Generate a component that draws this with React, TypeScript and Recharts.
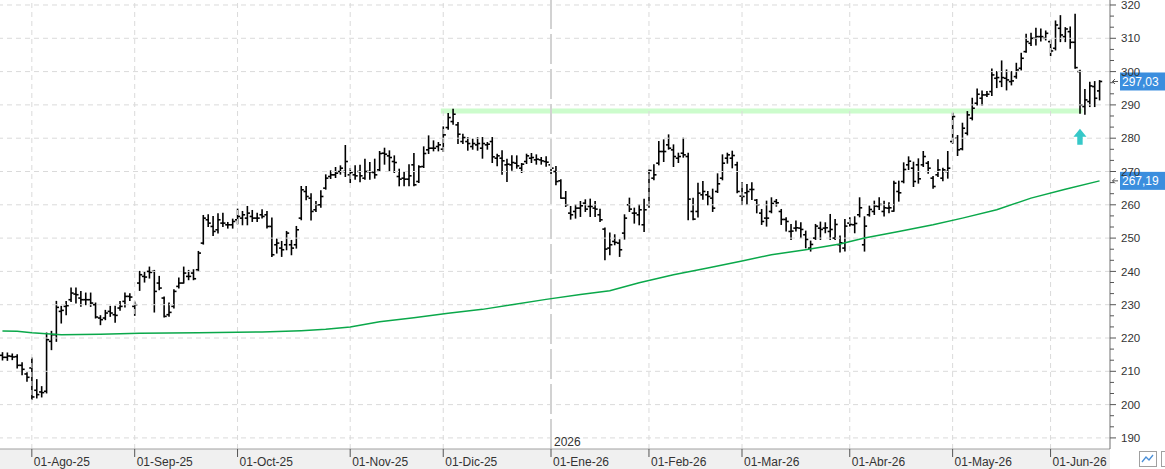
import React from 'react';
import {
  ComposedChart,
  Bar,
  Line,
  XAxis,
  YAxis,
  ReferenceLine,
  ReferenceArea,
  ReferenceDot,
} from 'recharts';

const FONT = '"Liberation Sans", Arial, sans-serif';

// US trading sessions from 24-Jul-2025
const firstSession = '2025-07-24';
const sessionCount = 225;
const holidays = [
  '2025-09-01', '2025-11-27', '2025-12-25', '2026-01-01',
  '2026-01-19', '2026-02-16', '2026-04-03', '2026-05-25',
];
const monthNames = ['Ene', 'Feb', 'Mar', 'Abr', 'May', 'Jun', 'Jul', 'Ago', 'Sep', 'Oct', 'Nov', 'Dic'];

// OHLC, one line per month (Jul-25 ... Jun-26)
const opens = [
  214.8, 214.2, 214.5, 214.4, 211.8, 209.2,
  211, 204.3, 203.8, 204, 219, 221, 228, 229.5, 231.5, 233.2, 232, 231.5, 231.5, 230, 226, 226, 228, 227, 229, 231, 232.5,
  229.5, 236.5, 238.5, 240, 240, 236.5, 232, 227, 229.5, 235.5, 236.5, 238.5, 239.5, 240.5, 248.5, 255.5, 253.5, 252.5, 254.5, 254, 254,
  255.5, 256, 256, 256.5, 256, 257, 257, 253.5, 248, 247, 248, 248, 248, 256, 264, 262, 258.5, 260, 265, 268.5, 269, 270, 270,
  269, 269, 270, 268, 270, 269.7, 270.5, 275.5, 274.7, 273, 268.5, 268, 267.7, 272, 267, 271.5, 276.5, 277, 277.5,
  276.7, 283.2, 285, 284, 279, 279, 277.5, 278, 277, 278, 279, 274, 274, 272, 272, 272.5, 271, 273, 274, 273.5, 273.5, 273,
  272, 270, 267.2, 262, 257.5, 258, 259, 260.5, 259.5, 259, 257, 252.7, 247, 249, 248.5, 251.5, 260, 257.5, 257, 254,
  260, 268, 272.5, 276, 278, 276.5, 274, 275.5, 274.5, 258, 258, 263, 263, 262, 264, 268, 274, 274, 272,
  262.6, 263.6, 264.6, 261.4, 257.5, 256, 258, 261, 258, 255.6, 252, 253, 253, 251, 247, 250, 253, 253, 252, 250, 248, 247,
  254.5, 254, 257, 248, 257, 258, 259.5, 258, 259, 258.1, 264, 267, 272, 271, 272, 272, 272.5, 268, 269, 268, 270,
  279, 280, 276.8, 281.5, 286, 290.5, 292, 293, 294, 298, 297, 298, 297, 298.5, 301, 306, 308.5, 310, 310.5, 310,
  309, 307, 313, 310.5, 312, 308.8, 300, 289.5, 291, 295.5, 294.2,
];
const highs = [
  215.6, 215.5, 215.2, 215, 212.6, 209.6,
  214, 207.5, 205.4, 221.5, 222, 231, 229.5, 231, 235, 235, 234, 233.5, 233.5, 230.5, 226.7, 228.3, 229.5, 229.5, 231, 233.5, 233.3,
  230.8, 240, 239.8, 241.3, 240.3, 238.5, 232.3, 230.5, 234.5, 238, 241.3, 240.3, 240.5, 246, 256.8, 257, 256.5, 257.3, 257.5, 254.7, 255.7,
  258.7, 258, 259.5, 258.3, 257.5, 258.5, 258, 256, 249.7, 249, 252, 249.3, 253.5, 265.5, 265.5, 263.3, 261, 264.2, 269, 270.2, 271.2, 271.7, 277.8,
  270.9, 271.7, 271.9, 273.7, 272.7, 273.7, 276, 277, 276.2, 274.7, 270.7, 270, 272, 275.4, 271.7, 277.4, 280.7, 279.2, 278.7,
  283.4, 287.4, 288.7, 284.7, 281.2, 280.2, 279.7, 280.2, 280.2, 278.7, 280.2, 275.2, 276.2, 273.7, 274.7, 274.7, 272.4, 275.2, 275.4, 275, 274.2, 274.4,
  277.7, 271.5, 267.5, 264, 259.5, 260, 261, 261.5, 261.7, 261, 258.7, 253, 251.5, 251, 249.5, 257, 262, 259, 260, 261.7,
  270.5, 272, 279, 279.5, 281, 278, 275.5, 280, 275.5, 262, 266.5, 267, 264, 264.7, 269.3, 275, 275.5, 276.1, 272.8,
  266.6, 266.1, 266.6, 261.6, 258.6, 261.1, 262.1, 261.6, 258.6, 256.1, 254.1, 255.1, 254.6, 252.1, 249.1, 254.1, 254.8, 254.6, 257.1, 255.6, 250.6, 255.6,
  256.1, 256.4, 262.1, 256.4, 259.6, 261.1, 262.1, 261.1, 260.6, 267.1, 267.1, 272.6, 274.4, 272.8, 273.8, 276, 273, 268.5, 273.5, 271, 276,
  287.5, 280.8, 284.5, 288, 292, 294.8, 294.2, 294, 300.8, 300, 303.2, 300.5, 300, 302.5, 305.5, 311.2, 311.5, 313, 312.8, 312.2,
  309.5, 315.2, 316.8, 313.2, 313.4, 317.2, 300.4, 294.6, 296.8, 297, 297.3,
];
const lows = [
  213.4, 213.3, 213.5, 211, 209, 207,
  201.5, 202, 202.3, 203.5, 216.5, 219, 224.5, 227, 231, 230.5, 229.5, 230, 229.5, 226, 224, 225.5, 226.5, 224.7, 228.3, 229.3, 231.3,
  226.8, 234.3, 236.8, 238, 227.8, 234.5, 226.3, 226.5, 229, 235, 236.5, 237.5, 237.5, 240, 248.2, 253.5, 250.8, 251.5, 253.5, 253, 253,
  254.3, 254, 254, 255, 255, 256, 253, 244.5, 245.5, 244.5, 246.5, 245, 247, 255.5, 261.5, 255.4, 258, 259.3, 264.7, 267.9, 268.2, 269.2, 268.5,
  266.7, 267.7, 266.9, 267.7, 267.7, 268, 270, 272.2, 270.2, 269.7, 265.7, 265.7, 265.7, 265.7, 266.7, 271.2, 275.4, 276.2, 276.2,
  276, 282.7, 284.2, 278.4, 278.4, 276.4, 276.7, 276.4, 274, 276.7, 272.7, 271.7, 269.2, 267, 270.4, 271, 269.7, 272.4, 272.7, 272.2, 272.2, 271.6,
  269, 266, 262, 259.5, 255.7, 256, 256.5, 258, 256.5, 256.5, 255, 243.5, 245, 248, 244.5, 249.7, 258, 254.5, 254, 252,
  259.3, 267.5, 272, 273, 276.7, 271.5, 272.7, 274.3, 255.5, 255.5, 256.3, 261.7, 260, 258, 263.7, 267.5, 272.5, 271.1, 263.6,
  260.1, 260.1, 261.6, 257.6, 254.1, 253.6, 257.6, 259.6, 254.1, 252.1, 249.6, 252.1, 250.1, 247.1, 246.1, 249.6, 249.6, 251.6, 249.6, 249.6, 245.8, 246.1,
  253.6, 251.6, 256.4, 246.1, 256.6, 257.1, 258.6, 256.6, 257.6, 258.1, 261.1, 266.6, 270.6, 265.5, 266.5, 271.5, 269.5, 265, 268.5, 267.2, 268,
  278.5, 274.8, 276.5, 281, 285.5, 290, 290, 292.5, 292.8, 295.2, 295.5, 294.5, 296, 298, 300.5, 305.8, 307.8, 308, 309.2, 309.5,
  304.8, 306.5, 309, 309, 307, 301, 287.5, 287.2, 289.5, 289.5, 291.5,
];
const closes = [
  214.2, 214.6, 214.3, 211.8, 210.6, 208.2,
  202.3, 203, 203.6, 219.5, 221, 229.2, 228.3, 229.7, 233.5, 233, 231.5, 231.5, 230.5, 226.3, 225.5, 227.5, 227.5, 226.8, 229.5, 232.5, 232.3,
  230, 239, 238.3, 239.7, 234, 235, 226.5, 227.7, 234, 236.5, 239.5, 238.5, 237.8, 245.5, 256, 254.5, 252, 255.5, 254.5, 254, 255,
  256.5, 257, 257.5, 256, 256, 256.5, 253.5, 245, 248.5, 246.5, 251.5, 247, 252.5, 264.5, 262.5, 258, 260, 262.5, 268, 269, 269.5, 271, 273,
  269.7, 268.7, 268.7, 270, 269.9, 269, 275.4, 275.2, 274.2, 272.7, 267.7, 267.7, 268.7, 266, 271.4, 275.4, 277, 277, 278,
  281, 286.2, 287.2, 281.2, 280.2, 278.4, 278.4, 278.4, 278.4, 278.2, 274.4, 274.7, 273.2, 272.2, 272.7, 271.7, 272.2, 274.7, 274.2, 273.7, 273.2, 272.8,
  271, 267, 262, 260, 257, 259, 259.7, 258.7, 259.5, 258.7, 255.5, 246.7, 248, 248.7, 246.5, 256, 258.7, 257.5, 258.5, 258.5,
  270.3, 269, 276, 276, 277, 274.5, 274.5, 275, 261.7, 255.7, 263.5, 264, 262.5, 259, 266.3, 272.5, 275, 274.8, 264,
  262.5, 264, 264.6, 260, 255, 256, 260.4, 260.6, 255.6, 255, 252.1, 253.1, 252.6, 249.6, 248.1, 253.6, 252.6, 253.1, 252.6, 254.1, 248.6, 253.6,
  254.1, 254.4, 259.1, 253.6, 258.6, 259.6, 260.1, 259.1, 259.1, 266.5, 263.6, 270.6, 273.1, 267, 267.8, 274.5, 271, 265.5, 270.5, 270.5, 271,
  286.5, 276.5, 283, 287, 289, 293.2, 293, 293.2, 299, 298.2, 298.2, 297.5, 297.2, 300.5, 304, 309, 310, 310.5, 310.5, 311.5,
  306.2, 314, 311, 312.8, 308.8, 301.2, 290, 291.5, 295.7, 292, 297.03,
];

// 200-session moving average read at sampled sessions: [session index, value]
const ma200: [number, number][] = [
  [0, 222.1], [3, 222.0], [6, 221.6], [12, 221.0], [20, 221.1], [28, 221.4], [40, 221.6], [53, 221.8],
  [61, 222.2], [66, 222.6], [71, 223.3], [77, 224.9], [84, 226.1], [91, 227.4], [98, 228.6],
  [104, 230.0], [111, 231.6], [118, 233.1], [124, 234.2], [130, 236.6], [137, 239.0],
  [144, 241.0], [151, 243.1], [157, 245.0], [164, 246.5], [171, 248.2], [176, 250.0],
  [183, 252.0], [190, 254.0], [196, 256.0], [203, 258.5], [210, 262.0], [217, 264.7], [224, 267.19],
];

const lastClose = 297.03;
const lastMa = 267.19;
const supportLow = 287.4;
const supportHigh = 288.9;
const supportFrom = 90;
const supportTo = 220;
const signalAt = 220;
const signalLevel = 280.4;

const gridTicks = [190, 200, 210, 220, 230, 240, 250, 260, 270, 280, 290, 300, 310, 320];
const axisTicks = Array.from({ length: 40 }, (_, k) => 190 + (k * 10) / 3);
const yDomain = [186.67, 321.5];

function buildSessions(): string[] {
  const out: string[] = [];
  const d = new Date(firstSession + 'T12:00:00Z');
  while (out.length < sessionCount) {
    const wd = d.getUTCDay();
    const iso = d.toISOString().slice(0, 10);
    if (wd !== 0 && wd !== 6 && !holidays.includes(iso)) out.push(iso);
    d.setUTCDate(d.getUTCDate() + 1);
  }
  return out;
}

const sessions = buildSessions();
const monthStarts = sessions.filter((s, i) => i > 0 && s.slice(5, 7) !== sessions[i - 1].slice(5, 7));
const yearStart = monthStarts.find((s) => s.slice(5, 7) === '01') as string;
const monthLabel = (s: string) => `01-${monthNames[Number(s.slice(5, 7)) - 1]}-${s.slice(2, 4)}`;

const maByIndex = new Map(ma200);
const table = sessions.map((d, i) => ({
  d,
  o: opens[i],
  h: highs[i],
  l: lows[i],
  c: closes[i],
  range: [lows[i], highs[i]],
  ma: maByIndex.has(i) ? maByIndex.get(i) : null,
}));

const OhlcShape = (props: any) => {
  const { x, y, width, height, payload } = props;
  if (x == null || payload == null) return null;
  const cx = x + width / 2;
  const top = Math.min(y, y + height);
  const bottom = Math.max(y, y + height);
  const span = payload.h - payload.l || 1;
  const toY = (v: number) => top + ((payload.h - v) / span) * (bottom - top);
  const yo = toY(payload.o);
  const yc = toY(payload.c);
  return (
    <g stroke="#000" strokeWidth={1.6}>
      <line x1={cx} x2={cx} y1={top - 0.5} y2={bottom + 0.5} />
      <line x1={cx - 2.6} x2={cx} y1={yo} y2={yo} />
      <line x1={cx} x2={cx + 2.6} y1={yc} y2={yc} />
    </g>
  );
};

const ArrowShape = (props: any) => {
  const { cx, cy } = props;
  if (cx == null) return null;
  return (
    <path
      d={`M${cx} ${cy - 8} L${cx + 6.5} ${cy} L${cx + 2.7} ${cy} L${cx + 2.7} ${cy + 8} L${cx - 2.7} ${cy + 8} L${cx - 2.7} ${cy} L${cx - 6.5} ${cy} Z`}
      fill="#36c8c8"
    />
  );
};

const XTick = (props: any) => {
  const { x, y, payload } = props;
  return (
    <g>
      <line x1={x} x2={x} y1={y} y2={y + 8} stroke="#555" />
      <text x={x + 2} y={y + 17} fill="#333" fontSize={12} fontFamily={FONT}>
        {monthLabel(payload.value)}
      </text>
    </g>
  );
};

const YTick = (props: any) => {
  const { x, y, payload } = props;
  const v = payload.value as number;
  const major = Math.abs(v / 10 - Math.round(v / 10)) < 1e-6;
  return (
    <g>
      <line x1={x} x2={x + (major ? 6 : 4)} y1={y} y2={y} stroke="#555" />
      {major && (
        <text x={x + 11} y={y} dy="0.36em" fill="#333" fontSize={11.5} fontFamily={FONT}>
          {Math.round(v)}
        </text>
      )}
    </g>
  );
};

const PriceTag = (props: any) => {
  const { viewBox, text } = props;
  if (!viewBox) return null;
  const right = viewBox.x + viewBox.width;
  const y = viewBox.y;
  return (
    <g>
      <path
        d={`M${right + 8} ${y} L${right + 2.5} ${y} M${right + 5} ${y - 2.5} L${right + 2.5} ${y} L${right + 5} ${y + 2.5}`}
        stroke="#555"
        fill="none"
      />
      <rect x={right + 10} y={y - 9} width={50} height={18} fill="#3b8ede" />
      <text x={right + 12} y={y} dy="0.36em" fill="#fff" fontSize={12} fontFamily={FONT}>
        {text}
      </text>
    </g>
  );
};

export default function App() {
  return (
    <div style={{ position: 'absolute', left: 0, top: 0, width: 1165, height: 469, background: '#fff' }}>
      <div style={{ position: 'absolute', left: 0, top: 449, width: 1110, height: 20, background: '#f0f0f0' }} />
      <svg width={40} height={20} style={{ position: 'absolute', left: 1130, top: 449 }}>
        <rect x={9.5} y={2.5} width={17} height={15} fill="#fff" stroke="#a0a0a0" />
        <polyline points="12,13 16,8 19,11 23,6" fill="none" stroke="#4a8fd8" strokeWidth={1.3} />
        <rect x={31.5} y={2.5} width={17} height={15} fill="#fff" stroke="#a0a0a0" />
      </svg>
      <div style={{ position: 'absolute', left: 0, top: 0 }}>
        <ComposedChart width={1165} height={469} data={table} margin={{ top: 0, right: 0, bottom: 0, left: 0 }}>
          <XAxis
            dataKey="d"
            ticks={monthStarts}
            interval={0}
            tick={(p: any) => <XTick {...p} />}
            tickLine={false}
            tickSize={0}
            tickMargin={0}
            axisLine={{ stroke: '#a0a0a0' }}
            height={20}
            padding={{ left: 0, right: 8 }}
          />
          <YAxis
            orientation="right"
            domain={yDomain}
            allowDataOverflow
            ticks={axisTicks}
            interval={0}
            tick={(p: any) => <YTick {...p} />}
            tickLine={false}
            tickSize={0}
            tickMargin={0}
            axisLine={{ stroke: '#707070' }}
            width={55}
          />
          {gridTicks.map((v) => (
            <ReferenceLine key={`h${v}`} y={v} stroke="#dadada" strokeDasharray="5 4" />
          ))}
          {monthStarts
            .filter((s) => s !== yearStart)
            .map((s) => (
              <ReferenceLine key={`v${s}`} x={s} stroke="#dadada" strokeDasharray="5 4" />
            ))}
          <ReferenceLine
            x={yearStart}
            stroke="#d2d2d2"
            strokeWidth={2}
            strokeDasharray="30 5"
            label={{ value: '2026', position: 'insideBottomLeft', offset: 3, fill: '#333', fontSize: 12, fontFamily: FONT }}
          />
          <ReferenceArea
            x1={sessions[supportFrom]}
            x2={sessions[supportTo]}
            y1={supportLow}
            y2={supportHigh}
            fill="#ccfccc"
            fillOpacity={1}
            stroke="none"
          />
          <Line
            dataKey="ma"
            stroke="#0aa84a"
            strokeWidth={1.5}
            dot={false}
            activeDot={false}
            connectNulls
            isAnimationActive={false}
          />
          <Bar dataKey="range" shape={OhlcShape} isAnimationActive={false} />
          <ReferenceDot x={sessions[signalAt]} y={signalLevel} shape={ArrowShape} />
          <ReferenceLine y={lastClose} stroke="none" label={(p: any) => <PriceTag {...p} text="297,03" />} />
          <ReferenceLine y={lastMa} stroke="none" label={(p: any) => <PriceTag {...p} text="267,19" />} />
        </ComposedChart>
      </div>
    </div>
  );
}
